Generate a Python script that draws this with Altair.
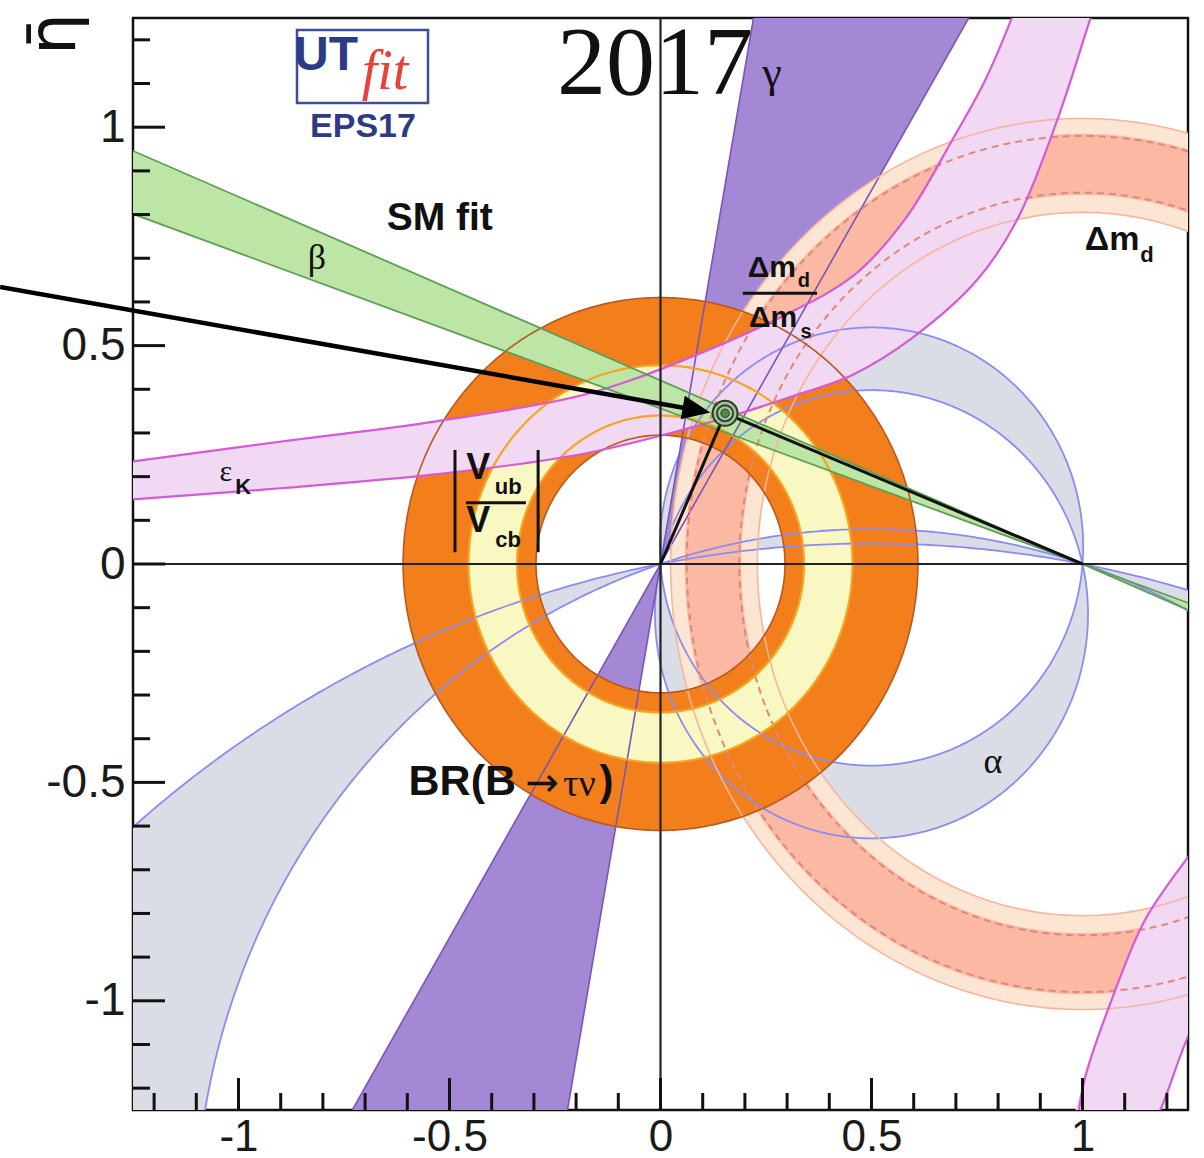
import math
import numpy as np
import pandas as pd
import altair as alt

# ---------------------------------------------------------------- frame
RHO_DOMAIN = [-1.25, 1.25]
ETA_DOMAIN = [-1.25, 1.25]
PLOT_W, PLOT_H = 1055, 1092
PX_RHO = PLOT_W / (RHO_DOMAIN[1] - RHO_DOMAIN[0])
PX_ETA = PLOT_H / (ETA_DOMAIN[1] - ETA_DOMAIN[0])

TICK_MAJOR = [-1.0, -0.5, 0.0, 0.5, 1.0]
TICK_MINOR = [-1.2, -1.1, -0.9, -0.8, -0.7, -0.6, -0.4, -0.3, -0.2, -0.1,
              0.1, 0.2, 0.3, 0.4, 0.6, 0.7, 0.8, 0.9, 1.1, 1.2]

# ---------------------------------------------------------------- constraints
BTN_RADII = [0.295, 0.61]            # BR(B -> tau nu), centred on the origin
VUB_RADII = [0.34, 0.455]            # |Vub/Vcb|, centred on the origin
DMS_CENTRE = [1.0, 0.0]              # Delta m_d / Delta m_s rings
DMS_X_SQUASH = 0.957                 # rings are slightly narrower along rho
DMS_95_RADII = [0.805, 1.02]
DMS_68_RADII = [0.845, 0.985]
DMD_DASHED_RADII = [0.85, 0.98]      # Delta m_d contour
BETA_DEG = [19.6, 22.8]              # wedge opening at (1, 0)
GAMMA_DEG = [59.7, 80.0]             # wedge opening at (0, 0)
# alpha: pairs of circles through (0,0) and (1,0), given by the height of their centre
ALPHA_CIRCLE_PAIRS = [(0.04, -0.115), (-1.5225, -2.636)]

# epsilon_K band edges (rho, eta)
EPSK_UP_RHO = [-1.35, -1.25, -0.893, -0.536, -0.179, 0.05, 0.274, 0.457, 0.58, 0.695, 0.767, 0.83, 0.855]
EPSK_UP_ETA = [0.222, 0.235, 0.281, 0.326, 0.388, 0.465, 0.56, 0.66, 0.79, 0.977, 1.103, 1.244, 1.31]
EPSK_LO_RHO = [-1.35, -1.25, -0.893, -0.536, -0.179, 0.148, 0.30, 0.457, 0.60, 0.75, 0.845, 0.94, 1.017, 1.04]
EPSK_LO_ETA = [0.141, 0.148, 0.174, 0.205, 0.253, 0.333, 0.38, 0.434, 0.52, 0.65, 0.788, 1.016, 1.244, 1.31]
# second branch, lower right
EPSK_B2_LEFT_RHO = [1.30, 1.25, 1.148, 1.076, 1.005, 0.985]
EPSK_B2_LEFT_ETA = [-0.61, -0.671, -0.815, -0.98, -1.18, -1.30]
EPSK_B2_RIGHT_RHO = [1.16, 1.188, 1.25, 1.30]
EPSK_B2_RIGHT_ETA = [-1.30, -1.242, -1.082, -0.99]

APEX = [0.153, 0.345]                 # SM fit result
ARROW_TAIL = [-1.565, 0.634]
ARROW_TIP = [0.118, 0.347]

# ---------------------------------------------------------------- colours
GREY, BLUE = "#dadce6", "#8b8cf0"
PURPLE, PURPLE_EDGE = "#a487d5", "#7a55b6"
SALMON_LIGHT, SALMON_DARK = "#fde5d4", "#fbb9a4"
SALMON_EDGE, SALMON_DASH = "#f7b59c", "#e08878"
ORANGE, BROWN = "#f27e1c", "#b85a1e"
YELLOW, YELLOW_EDGE = "#f9f8c3", "#f6a51f"
PINK, MAGENTA = "#f1d9f4", "#d659d6"
GREEN, GREEN_EDGE = "#bde5a6", "#5d9f55"
INK = "#111111"

# ---------------------------------------------------------------- geometry helpers
def ellipse(cx, cy, rx, ry, t0=0.0, t1=2 * math.pi, n=361):
    ts = np.linspace(t0, t1, n)
    return [(cx + rx * math.cos(t), cy + ry * math.sin(t)) for t in ts]


def circle(cx, cy, r, t0=0.0, t1=2 * math.pi, n=361):
    return ellipse(cx, cy, r, r, t0, t1, n)


def annulus(cx, cy, r_in, r_out, sx=1.0):
    return (ellipse(cx, cy, r_out * sx, r_out, n=721)
            + ellipse(cx, cy, r_in * sx, r_in, 2 * math.pi, 0.0, n=721))


def chord_arc(c, upper, n=500):
    """Arc of the circle centred at (0.5, c) passing through (0,0) and (1,0)."""
    R = math.hypot(0.5, c)
    t1 = math.atan2(-c, 0.5)
    if upper:   # (1,0) -> (0,0) above the chord
        return circle(0.5, c, R, t1, math.pi - t1, n)
    return circle(0.5, c, R, math.pi - t1, 2 * math.pi + t1, n)  # (0,0) -> (1,0) below


def wedge(x0, y0, a0, a1, L=4.0):
    pts = []
    for s in (1, -1):
        pts.append([(x0, y0),
                    (x0 + s * L * math.cos(a0), y0 + s * L * math.sin(a0)),
                    (x0 + s * L * math.cos(a1), y0 + s * L * math.sin(a1))])
    return pts


def ray_lines(x0, y0, angles, L=4.0):
    return [[(x0 - L * math.cos(a), y0 - L * math.sin(a)),
             (x0 + L * math.cos(a), y0 + L * math.sin(a))] for a in angles]


def poly_frame(polys):
    rows = []
    for pid, pts in enumerate(polys):
        for i, (x, y) in enumerate(pts):
            rows.append({"x": x, "y": y, "pid": pid, "i": i})
    return pd.DataFrame(rows)


# ---------------------------------------------------------------- scales and axes
label_kw = dict(ticks=False, domain=False, grid=False, labelFont="Liberation Sans",
                labelColor="#1a1a1a", labelOverlap=False,
                labelFlush=False, labelExpr="'' + datum.value", title=None, values=TICK_MAJOR)
X = alt.X("x:Q", scale=alt.Scale(domain=RHO_DOMAIN, nice=False, zero=False),
          axis=alt.Axis(labelPadding=5, labelFontSize=44, **label_kw))
Y = alt.Y("y:Q", scale=alt.Scale(domain=ETA_DOMAIN, nice=False, zero=False),
          axis=alt.Axis(labelPadding=8, labelFontSize=46, **label_kw))


def fill_layer(polys, colour, interp="linear"):
    return alt.Chart(poly_frame(polys)).mark_line(
        fill=colour, strokeOpacity=0, strokeWidth=0, clip=True, interpolate=interp
    ).encode(x=X, y=Y, detail="pid:N", order="i:Q")


def edge_layer(polys, colour, width, dash=None, interp="linear"):
    kw = dict(stroke=colour, strokeWidth=width, clip=True, interpolate=interp)
    if dash:
        kw["strokeDash"] = dash
    return alt.Chart(poly_frame(polys)).mark_line(**kw).encode(
        x=X, y=Y, detail="pid:N", order="i:Q")


rad = math.radians
layers = []

# ---- alpha (grey crescents between circle pairs)
alpha_fill, alpha_circles = [], []
for c_hi, c_lo in ALPHA_CIRCLE_PAIRS:
    alpha_fill.append(chord_arc(c_hi, True) + chord_arc(c_lo, True)[::-1])
    alpha_fill.append(chord_arc(c_lo, False) + chord_arc(c_hi, False)[::-1])
    for c in (c_hi, c_lo):
        alpha_circles.append(circle(0.5, c, math.hypot(0.5, c), n=1200))
layers.append(fill_layer(alpha_fill, GREY))

# ---- gamma
layers.append(fill_layer(wedge(0.0, 0.0, rad(GAMMA_DEG[0]), rad(GAMMA_DEG[1])), PURPLE))

# ---- Delta m_d / Delta m_s
cx, cy = DMS_CENTRE
layers.append(fill_layer([annulus(cx, cy, *DMS_95_RADII, sx=DMS_X_SQUASH)], SALMON_LIGHT))
layers.append(fill_layer([annulus(cx, cy, *DMS_68_RADII, sx=DMS_X_SQUASH)], SALMON_DARK))

# ---- BR(B -> tau nu) and |Vub/Vcb|
layers.append(fill_layer([annulus(0, 0, *BTN_RADII)], ORANGE))
layers.append(fill_layer([annulus(0, 0, *VUB_RADII)], YELLOW))

# ---- epsilon_K
epsk_up = list(zip(EPSK_UP_RHO, EPSK_UP_ETA))
epsk_lo = list(zip(EPSK_LO_RHO, EPSK_LO_ETA))
epsk_l2 = list(zip(EPSK_B2_LEFT_RHO, EPSK_B2_LEFT_ETA))
epsk_r2 = list(zip(EPSK_B2_RIGHT_RHO, EPSK_B2_RIGHT_ETA))
layers.append(fill_layer([epsk_up + epsk_lo[::-1], epsk_l2 + epsk_r2], PINK, "catmull-rom"))

# ---- beta
beta_dirs = [math.pi - rad(BETA_DEG[0]), math.pi - rad(BETA_DEG[1])]
layers.append(fill_layer(wedge(1.0, 0.0, beta_dirs[0], beta_dirs[1]), GREEN))

# ---- contour lines
layers.append(edge_layer(alpha_circles, BLUE, 1.8))
layers.append(edge_layer(ray_lines(0, 0, [rad(a) for a in GAMMA_DEG]), PURPLE_EDGE, 1.6))
layers.append(edge_layer([ellipse(cx, cy, r * DMS_X_SQUASH, r, n=720) for r in DMS_95_RADII],
                         SALMON_EDGE, 1.6))
layers.append(edge_layer([ellipse(cx, cy, r * DMS_X_SQUASH, r, n=720) for r in DMD_DASHED_RADII],
                         SALMON_DASH, 2.0, [7, 5]))
layers.append(edge_layer([circle(0, 0, r) for r in BTN_RADII], BROWN, 1.6))
layers.append(edge_layer([circle(0, 0, r) for r in VUB_RADII], YELLOW_EDGE, 2.2))
layers.append(edge_layer([epsk_up, epsk_lo, epsk_l2, epsk_r2], MAGENTA, 2.2, interp="catmull-rom"))
layers.append(edge_layer(ray_lines(1.0, 0.0, beta_dirs), GREEN_EDGE, 1.8))

# ---- rho = 0 and eta = 0 lines
zero_lines = pd.DataFrame({"x": [0.0, RHO_DOMAIN[0]], "x2": [0.0, RHO_DOMAIN[1]],
                           "y": [ETA_DOMAIN[0], 0.0], "y2": [ETA_DOMAIN[1], 0.0]})
layers.append(alt.Chart(zero_lines).mark_rule(color="#222222", strokeWidth=2.2).encode(
    x=X, x2=alt.X2("x2:Q"), y=Y, y2=alt.Y2("y2:Q")))

# ---- unitarity triangle
tri = pd.DataFrame({"x": [0.0, APEX[0], 1.0], "y": [0.0, APEX[1], 0.0], "i": [0, 1, 2]})
layers.append(alt.Chart(tri).mark_line(color=INK, strokeWidth=3).encode(x=X, y=Y, order="i:Q"))

apex = pd.DataFrame({"x": [APEX[0]], "y": [APEX[1]]})
layers.append(alt.Chart(apex).mark_point(shape="circle", size=620, filled=True, fill="#9fc496",
                                         stroke="#2e3a2c", strokeWidth=2, opacity=1).encode(x=X, y=Y))
layers.append(alt.Chart(apex).mark_point(shape="circle", size=260, filled=False,
                                         stroke="#2e3a2c", strokeWidth=1.8, opacity=1).encode(x=X, y=Y))
layers.append(alt.Chart(apex).mark_point(shape="circle", size=70, filled=True, fill="#4f8a48",
                                         stroke="#2e3a2c", strokeWidth=1, opacity=1).encode(x=X, y=Y))

# ---- arrow pointing at the fit result
dxp = (ARROW_TIP[0] - ARROW_TAIL[0]) * PX_RHO
dyp = -(ARROW_TIP[1] - ARROW_TAIL[1]) * PX_ETA
arrow_ang = math.atan2(dyp, dxp)
HEAD_LEN = 26
arrow_base = [ARROW_TIP[0] - HEAD_LEN * math.cos(arrow_ang) / PX_RHO,
              ARROW_TIP[1] + HEAD_LEN * math.sin(arrow_ang) / PX_ETA]
shaft = pd.DataFrame({"x": [ARROW_TAIL[0]], "y": [ARROW_TAIL[1]],
                      "x2": [arrow_base[0]], "y2": [arrow_base[1]]})
layers.append(alt.Chart(shaft).mark_rule(color="black", strokeWidth=4.5).encode(
    x=X, y=Y, x2=alt.X2("x2:Q"), y2=alt.Y2("y2:Q")))
tip = pd.DataFrame({"x": [ARROW_TIP[0]], "y": [ARROW_TIP[1]]})
layers.append(alt.Chart(tip).mark_point(shape="M 0 0 L -2 -0.85 L -2 0.85 Z", size=784,
                                        filled=True, color="black", opacity=1,
                                        angle=math.degrees(arrow_ang)).encode(x=X, y=Y))

# ---- in-plot labels
def text_layer(rows, font, weight="normal", style="normal", colour=INK, align="center"):
    df = pd.DataFrame(rows, columns=["text", "x", "y", "fs"])
    return alt.Chart(df).mark_text(font=font, fontWeight=weight, fontStyle=style, color=colour,
                                   align=align, baseline="middle").encode(
        x=X, y=Y, text="text:N", size=alt.Size("fs:Q", scale=None))


sans_bold = [
    ("SM fit", -0.523, 0.792, 39),
    ("Δm", 1.070, 0.742, 34), ("d", 1.153, 0.708, 22),
    ("Δm", 0.264, 0.678, 30), ("d", 0.340, 0.648, 20),
    ("Δm", 0.267, 0.563, 30), ("s", 0.345, 0.531, 20),
    ("K", -0.989, 0.176, 22),
    ("V", -0.432, 0.220, 36), ("ub", -0.361, 0.176, 22),
    ("V", -0.432, 0.098, 36), ("cb", -0.361, 0.055, 22),
    (")", -0.128, -0.499, 42),
]
serif = [
    ("β", -0.814, 0.700, 36),
    ("γ", 0.264, 1.122, 44),
    ("ε", -1.030, 0.211, 30),
    ("α", 0.788, -0.453, 36),
    ("τν", -0.192, -0.506, 38),
    ("2017", -0.013, 1.142, 98),
]
layers.append(text_layer(sans_bold, "Liberation Sans", "bold"))
layers.append(text_layer([("BR(B", -0.597, -0.499, 43)], "Liberation Sans", "bold", align="left"))
layers.append(text_layer([("→", -0.280, -0.503, 40)], "DejaVu Sans"))
layers.append(text_layer(serif, "Liberation Serif"))

# fraction bars and absolute-value bars
bars = pd.DataFrame({
    "x": [0.195, -0.461, -0.487, -0.290],
    "x2": [0.371, -0.319, -0.487, -0.290],
    "y": [0.620, 0.140, 0.261, 0.261],
    "y2": [0.620, 0.140, 0.027, 0.027],
})
layers.append(alt.Chart(bars).mark_rule(color=INK, strokeWidth=3).encode(
    x=X, x2=alt.X2("x2:Q"), y=Y, y2=alt.Y2("y2:Q")))

# ---- axis ticks (inward)
major = pd.DataFrame({"x": TICK_MAJOR, "y": TICK_MAJOR})
minor = pd.DataFrame({"x": TICK_MINOR, "y": TICK_MINOR})
for df, ln in ((major, 32), (minor, 17)):
    layers.append(alt.Chart(df).mark_rule(color=INK, strokeWidth=3).encode(
        y=Y, x=alt.value(0), x2=alt.value(ln)))
    layers.append(alt.Chart(df).mark_rule(color=INK, strokeWidth=3).encode(
        x=X, y=alt.value(PLOT_H), y2=alt.value(PLOT_H - ln)))

# ---- eta-bar axis title
one = pd.DataFrame({"k": [0]})
layers.append(alt.Chart(one).mark_text(text="η̄", font="DejaVu Sans", fontSize=66, angle=270,
                                       align="center", baseline="middle", color=INK).encode(
    x=alt.value(-78), y=alt.value(16)))

# ---- UTfit / EPS17 badge
layers.append(alt.Chart(one).mark_rect(fill="white", stroke="#3f4d9b", strokeWidth=2.5).encode(
    x=alt.value(164), x2=alt.value(295), y=alt.value(12), y2=alt.value(85)))
layers.append(alt.Chart(one).mark_text(text="UT", font="Liberation Sans", fontWeight="bold",
                                       fontSize=48, color="#2d3b84", align="center",
                                       baseline="middle").encode(x=alt.value(193), y=alt.value(38)))
layers.append(alt.Chart(one).mark_text(text="fit", font="Liberation Serif", fontStyle="italic",
                                       fontSize=56, color="#e8413c", align="center",
                                       baseline="middle").encode(x=alt.value(252), y=alt.value(54)))
layers.append(alt.Chart(one).mark_text(text="EPS17", font="Liberation Sans", fontWeight="bold",
                                       fontSize=34, color="#2f3a86", align="center",
                                       baseline="middle").encode(x=alt.value(230), y=alt.value(109)))

chart = alt.layer(*layers).properties(
    width=PLOT_W, height=PLOT_H,
    padding={"left": 133, "top": 18, "right": 16, "bottom": 48},
    autosize=alt.AutoSizeParams(type="none"),
    background="white",
).configure_view(stroke=INK, strokeWidth=2.5)

chart.save("out.html", embed_options={"renderer": "svg", "actions": False})
